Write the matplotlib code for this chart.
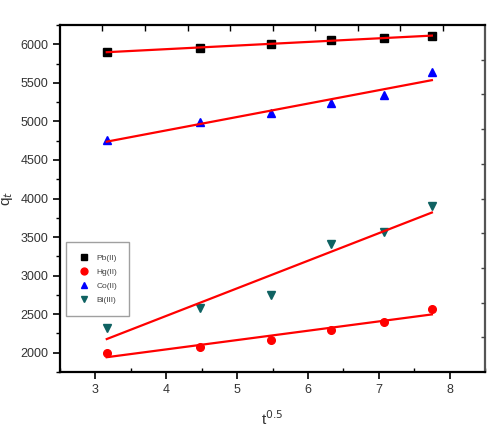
import numpy as np
import matplotlib
matplotlib.use("Agg")
import matplotlib.pyplot as plt
from matplotlib.ticker import MultipleLocator

plt.rcParams['font.family'] = ['Liberation Sans', 'DejaVu Sans']

# sqrt of contact time
t_half = [3.16, 4.47, 5.48, 6.32, 7.07, 7.75]

# adsorbed amount q_t for each ion
pb = [5900, 5950, 6010, 6050, 6080, 6110]
hg = [2000, 2080, 2160, 2290, 2400, 2570]
co = [4760, 4990, 5110, 5240, 5340, 5640]
bi = [2320, 2580, 2750, 3410, 3570, 3900]

labels = ['Pb(II)', 'Hg(II)', 'Co(II)', 'Bi(III)']
markers = ['s', 'o', '^', 'v']
colors = ['black', 'red', 'blue', '#0f6262']

fig = plt.figure(figsize=(4.93, 4.28), dpi=100)
ax = fig.add_axes([0.1217, 0.1308, 0.8621, 0.8108])

x = np.array(t_half)
for ys, lab, m, c in zip([pb, hg, co, bi], labels, markers, colors):
    ax.plot(x, ys, linestyle='none', marker=m, color=c, markersize=5.5, label=lab)
    # linear fit line
    k, b = np.polyfit(x, ys, 1)
    ax.plot(x, k * x + b, color='red', linewidth=1.6)

ax.set_xlim(2.5, 8.5)
ax.set_ylim(1750, 6250)
ax.xaxis.set_major_locator(MultipleLocator(1))
ax.xaxis.set_minor_locator(MultipleLocator(0.5))
ax.yaxis.set_major_locator(MultipleLocator(500))
ax.yaxis.set_minor_locator(MultipleLocator(250))
ax.tick_params(axis='both', which='major', direction='out', length=5, width=1.2,
               labelsize=9, colors='black', labelcolor='#333333')
ax.tick_params(axis='x', which='minor', direction='in', length=3, width=1)
ax.tick_params(axis='y', which='minor', direction='out', length=3, width=1)
for s in ['left', 'bottom', 'top']:
    ax.spines[s].set_linewidth(1.6)
ax.spines['right'].set_color('#555555')
ax.spines['right'].set_linewidth(1.6)

# top / right frame ticks (0-1 scale, unlabeled)
axt = ax.twiny()
axt.set_xlim(0, 1)
axt.set_xticks(np.arange(0.1, 1.0, 0.1))
axt.tick_params(axis='x', which='both', direction='in', length=4, width=1,
                top=True, bottom=False, labeltop=False)
axr = ax.twinx()
axr.set_ylim(0, 1)
axr.set_yticks(np.arange(0.1, 1.0, 0.1))
axr.tick_params(axis='y', direction='in', length=3, width=1, labelright=False, colors='#444444')
for a in (axt, axr):
    for s in a.spines.values():
        s.set_visible(False)

ax.set_xlabel('t$^{0.5}$', fontsize=11, color='#333333', labelpad=10)
ax.set_ylabel('q$_t$', fontsize=11, color='#333333', labelpad=4)

leg = ax.legend(loc='lower left', bbox_to_anchor=(0.005, 0.15), fontsize=6,
                frameon=True, fancybox=False, edgecolor='#888888',
                handletextpad=0.8, borderpad=1.4, labelspacing=0.75,
                handlelength=1.4, markerscale=0.9)
for t in leg.get_texts():
    t.set_color('#444444')

fig.savefig('out.png', dpi=100)
